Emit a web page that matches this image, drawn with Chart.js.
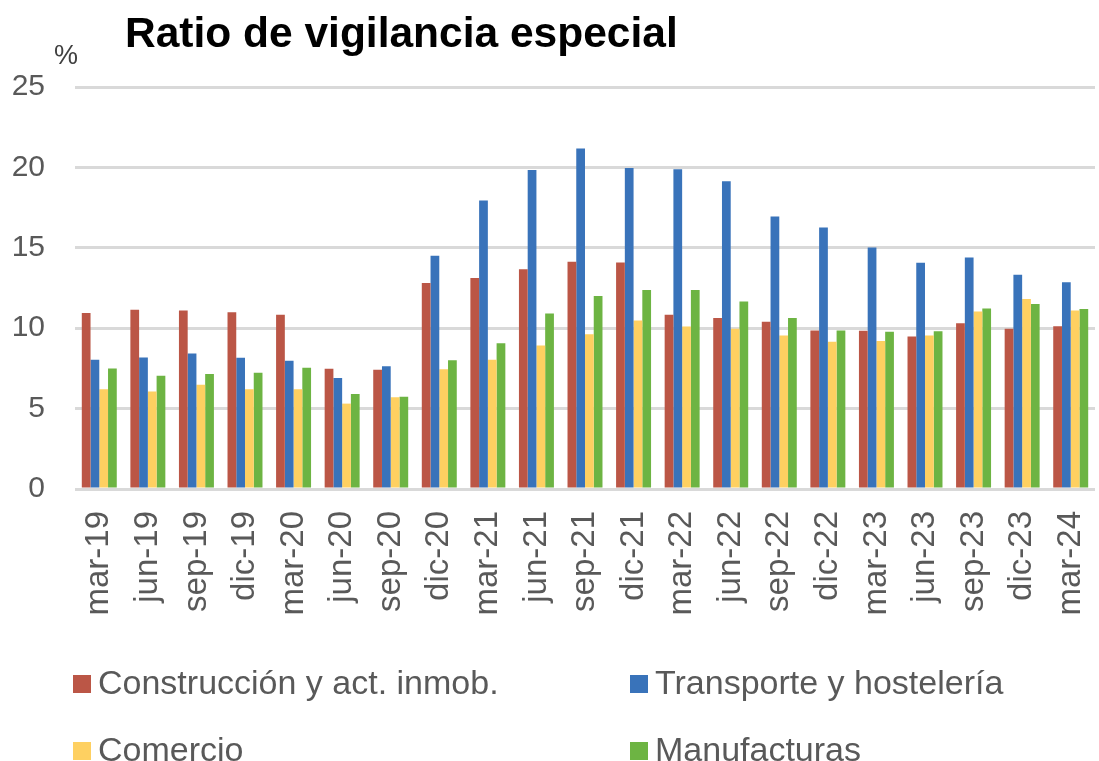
<!DOCTYPE html>
<html lang="es">
<head>
<meta charset="utf-8">
<title>Ratio de vigilancia especial</title>
<script src="https://cdn.jsdelivr.net/npm/chart.js@4.4.1/dist/chart.umd.min.js"></script>
<style>
  html, body { margin: 0; padding: 0; background: #fff; }
  body { width: 1099px; height: 761px; position: relative; overflow: hidden;
         font-family: "Liberation Sans", Arial, sans-serif; }
  #chartBox { position: absolute; left: 0; top: 0; width: 1099px; height: 761px; }
  #titulo { position: absolute; left: 125px; top: 12px; font-size: 42.5px; font-weight: bold;
            color: #000; line-height: 42px; white-space: nowrap; }
  #unidad { position: absolute; left: 54px; top: 42px; font-size: 27px; color: #404040;
            line-height: 27px; }
  .leyenda { position: absolute; font-size: 34px; color: #595959; line-height: 34px;
             white-space: nowrap; }
  .leyenda span { display: inline-block; width: 18px; height: 18px; margin-right: 7px;
                  vertical-align: 1px; }
</style>
</head>
<body>
<div id="chartBox"><canvas id="ratioChart" width="1099" height="761"></canvas></div>
<div id="titulo">Ratio de vigilancia especial</div>
<div id="unidad">%</div>
<div id="leyendaBox"></div>

<script>
// Trimestres (eje X)
const trimestres = [
    "mar-19", "jun-19", "sep-19", "dic-19", "mar-20", "jun-20", "sep-20",
    "dic-20", "mar-21", "jun-21", "sep-21", "dic-21", "mar-22", "jun-22",
    "sep-22", "dic-22", "mar-23", "jun-23", "sep-23", "dic-23", "mar-24"
];

// Ratios por sector (%)
const construccion = [10.95, 11.14, 11.10, 10.99, 10.83, 7.48, 7.42, 12.81, 13.12, 13.66, 14.13,
                      14.09, 10.83, 10.64, 10.40, 9.86, 9.84, 9.49, 10.31, 9.96, 10.12];
const transporte = [8.04, 8.18, 8.43, 8.16, 7.98, 6.90, 7.63, 14.50, 17.94, 19.84, 21.18,
                    19.96, 19.88, 19.14, 16.94, 16.26, 15.02, 14.07, 14.40, 13.33, 12.85];
const comercio = [6.20, 6.06, 6.49, 6.20, 6.20, 5.31, 5.70, 7.44, 8.04, 8.93, 9.63,
                  10.48, 10.10, 9.96, 9.55, 9.16, 9.20, 9.55, 11.04, 11.82, 11.10];
const manufacturas = [7.50, 7.05, 7.15, 7.23, 7.54, 5.91, 5.74, 8.00, 9.07, 10.91, 12.00,
                      12.38, 12.38, 11.66, 10.64, 9.86, 9.78, 9.81, 11.22, 11.51, 11.20];

const sectores = ["Construcción y act. inmob.", "Transporte y hostelería", "Comercio", "Manufacturas"];
const colores = ["#BB5646", "#3973BA", "#FED061", "#6DB443"];
const ticksY = [0, 5, 10, 15, 20, 25];

const series = [construccion, transporte, comercio, manufacturas];

const ctx = document.getElementById("ratioChart").getContext("2d");
const ratioChart = new Chart(ctx, {
    type: "bar",
    data: {
        labels: trimestres,
        datasets: series.map((valores, i) => ({
            label: sectores[i],
            data: valores,
            backgroundColor: colores[i],
            borderWidth: 0,
            categoryPercentage: 0.72,
            barPercentage: 1.0,
        })),
    },
    options: {
        responsive: false,
        animation: false,
        layout: { padding: { top: 87, right: 4, bottom: 0, left: 0 } },
        plugins: {
            legend: { display: false },
            title: { display: false },
            tooltip: { enabled: false },
        },
        scales: {
            x: {
                grid: { display: false, drawTicks: false },
                border: { display: false },
                ticks: {
                    autoSkip: false,
                    minRotation: 90,
                    maxRotation: 90,
                    padding: 22,
                    color: "#595959",
                    font: { family: "'Liberation Sans', Arial, sans-serif", size: 33 },
                },
                afterFit: (axis) => {
                    axis.height = 272;
                    // las etiquetas giradas no deben encoger el área del gráfico
                    axis.paddingLeft = 0;
                    axis.paddingRight = 0;
                },
            },
            y: {
                min: 0,
                max: 25,
                afterBuildTicks: (axis) => { axis.ticks = ticksY.map((v) => ({ value: v })); },
                grid: { color: "#D9D9D9", lineWidth: 3, drawTicks: false },
                border: { display: false },
                ticks: {
                    padding: 30,
                    color: "#595959",
                    font: { family: "'Liberation Sans', Arial, sans-serif", size: 30 },
                },
                afterFit: (axis) => { axis.width = 75; },
            },
        },
    },
});

// Leyenda en dos columnas bajo el gráfico
const posLeyenda = [
    { left: 73, top: 665 }, { left: 630, top: 665 },
    { left: 73, top: 732 }, { left: 630, top: 732 },
];
const leyendaBox = document.getElementById("leyendaBox");
ratioChart.data.datasets.forEach((ds, i) => {
    const item = document.createElement("div");
    item.className = "leyenda";
    item.style.left = posLeyenda[i].left + "px";
    item.style.top = posLeyenda[i].top + "px";
    item.innerHTML = `<span style="background:${ds.backgroundColor}"></span>${ds.label}`;
    leyendaBox.appendChild(item);
});
</script>
</body>
</html>
